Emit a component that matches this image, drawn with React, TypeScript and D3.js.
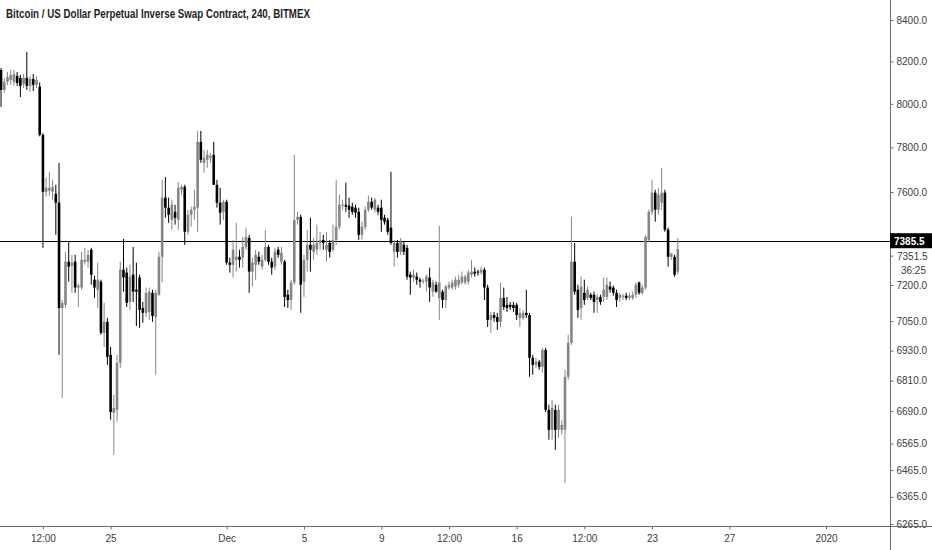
import { useEffect, useRef } from 'react'
import * as d3 from 'd3'

const BAR_MS = 4 * 3600 * 1000
const firstBar = Date.UTC(2019, 10, 19, 8)

// [open, high, low, close] per 4h bar, from Nov 19 08:00 UTC
const ohlc: [number, number, number, number][] = [
  [8159, 8169, 7986, 8065], [8065, 8122, 8051, 8103], [8103, 8150, 8089, 8126], [8112, 8159, 8089, 8136],
  [8103, 8159, 8084, 8140], [8131, 8150, 8084, 8098], [8122, 8136, 8032, 8084], [8093, 8140, 8074, 8122],
  [8122, 8245, 8065, 8084], [8084, 8131, 8056, 8117], [8117, 8140, 8060, 8089], [8089, 8131, 8074, 8112],
  [8080, 8100, 7850, 7857], [7857, 7865, 7357, 7601], [7601, 7663, 7579, 7619], [7606, 7690, 7584, 7619],
  [7601, 7654, 7566, 7623], [7592, 7632, 7413, 7553], [7553, 7730, 6913, 7104], [7104, 7137, 6742, 7125],
  [7117, 7340, 7104, 7298], [7298, 7383, 7214, 7277], [7281, 7327, 7167, 7294], [7298, 7327, 7167, 7189],
  [7189, 7205, 7108, 7197], [7189, 7340, 7180, 7306], [7298, 7357, 7285, 7306], [7298, 7349, 7273, 7327],
  [7349, 7357, 7201, 7243], [7222, 7239, 7146, 7189], [7180, 7294, 7104, 7222], [7214, 7222, 6994, 7002],
  [7002, 7125, 6945, 7047], [7047, 7063, 6873, 6905], [6913, 6945, 6657, 6687], [6684, 6754, 6522, 6703],
  [6695, 6913, 6649, 6881], [6881, 7298, 6861, 7264], [7264, 7396, 7172, 7231], [7252, 7273, 7108, 7125],
  [7129, 7285, 7096, 7235], [7243, 7361, 7129, 7172], [7180, 7294, 7030, 7172], [7231, 7243, 7022, 7096],
  [7104, 7129, 7043, 7084], [7084, 7189, 7067, 7167], [7088, 7189, 7055, 7172], [7167, 7180, 7047, 7071],
  [7067, 7180, 6833, 7167], [7159, 7340, 7155, 7319], [7319, 7654, 7210, 7575], [7575, 7667, 7487, 7531],
  [7531, 7575, 7465, 7500], [7478, 7566, 7435, 7544], [7513, 7544, 7457, 7487], [7478, 7645, 7435, 7619],
  [7610, 7632, 7588, 7623], [7623, 7632, 7370, 7426], [7426, 7522, 7413, 7500], [7500, 7535, 7448, 7522],
  [7522, 7610, 7478, 7535], [7531, 7875, 7426, 7825], [7825, 7875, 7730, 7744], [7730, 7789, 7686, 7753],
  [7744, 7789, 7708, 7767], [7753, 7776, 7730, 7762], [7767, 7825, 7632, 7632], [7632, 7654, 7531, 7553],
  [7553, 7619, 7457, 7509], [7513, 7566, 7478, 7557], [7557, 7566, 7285, 7294], [7294, 7315, 7252, 7285],
  [7285, 7391, 7231, 7349], [7306, 7465, 7256, 7319], [7319, 7349, 7273, 7306], [7315, 7404, 7273, 7361],
  [7361, 7444, 7349, 7404], [7400, 7413, 7167, 7256], [7256, 7315, 7193, 7294], [7285, 7349, 7222, 7327],
  [7319, 7340, 7285, 7298], [7277, 7327, 7264, 7306], [7306, 7435, 7298, 7361], [7361, 7370, 7285, 7298],
  [7298, 7315, 7243, 7273], [7277, 7357, 7264, 7340], [7349, 7361, 7315, 7327], [7298, 7361, 7285, 7336],
  [7298, 7306, 7108, 7150], [7159, 7180, 7104, 7137], [7137, 7222, 7096, 7210], [7210, 7767, 7201, 7478],
  [7478, 7513, 7457, 7491], [7491, 7500, 7084, 7201], [7214, 7327, 7150, 7306], [7306, 7435, 7256, 7370],
  [7370, 7487, 7256, 7349], [7340, 7400, 7306, 7370], [7349, 7457, 7327, 7378], [7378, 7426, 7349, 7391],
  [7391, 7413, 7349, 7378], [7349, 7426, 7298, 7370], [7378, 7391, 7315, 7340], [7349, 7457, 7340, 7391],
  [7391, 7654, 7370, 7448], [7448, 7588, 7435, 7544], [7540, 7566, 7522, 7544], [7544, 7641, 7513, 7535],
  [7540, 7575, 7487, 7522], [7535, 7553, 7500, 7513], [7531, 7544, 7487, 7509], [7513, 7531, 7391, 7413],
  [7413, 7470, 7391, 7448], [7448, 7535, 7435, 7522], [7522, 7584, 7513, 7557], [7557, 7575, 7522, 7531],
  [7522, 7575, 7509, 7566], [7531, 7544, 7500, 7513], [7531, 7566, 7426, 7478], [7487, 7500, 7457, 7470],
  [7478, 7487, 7413, 7426], [7444, 7690, 7370, 7378], [7340, 7391, 7277, 7378], [7378, 7391, 7315, 7340],
  [7340, 7400, 7327, 7383], [7370, 7383, 7327, 7340], [7357, 7370, 7222, 7235], [7243, 7256, 7159, 7231],
  [7231, 7264, 7214, 7243], [7235, 7252, 7201, 7222], [7222, 7231, 7189, 7214], [7214, 7226, 7205, 7218],
  [7214, 7243, 7172, 7235], [7231, 7273, 7129, 7189], [7172, 7222, 7150, 7210], [7201, 7214, 7167, 7172],
  [7146, 7452, 7055, 7210], [7172, 7180, 7104, 7137], [7137, 7201, 7104, 7193], [7189, 7214, 7180, 7201],
  [7189, 7222, 7180, 7210], [7193, 7235, 7180, 7222], [7201, 7243, 7189, 7222], [7210, 7256, 7201, 7235],
  [7210, 7243, 7201, 7235], [7214, 7264, 7201, 7252], [7243, 7306, 7231, 7256], [7256, 7273, 7235, 7247],
  [7256, 7264, 7239, 7252], [7252, 7277, 7243, 7264], [7264, 7273, 7137, 7189], [7189, 7201, 7026, 7055],
  [7055, 7088, 7002, 7075], [7075, 7088, 7047, 7063], [7067, 7084, 7014, 7047], [7047, 7210, 7026, 7146],
  [7146, 7189, 7096, 7108], [7117, 7150, 7088, 7104], [7117, 7129, 7096, 7108], [7117, 7129, 7088, 7104],
  [7117, 7125, 7055, 7075], [7063, 7104, 7026, 7084], [7063, 7096, 7055, 7084], [7084, 7180, 7063, 7075],
  [7075, 7084, 6825, 6901], [6901, 6913, 6833, 6873], [6873, 6901, 6861, 6885], [6885, 6893, 6853, 6865],
  [6865, 6941, 6841, 6933], [6933, 6941, 6687, 6695], [6695, 6715, 6580, 6618], [6618, 6734, 6580, 6703],
  [6695, 6715, 6541, 6618], [6618, 6715, 6587, 6695], [6618, 6657, 6599, 6637], [6618, 6853, 6417, 6825],
  [6825, 6994, 6813, 6961], [6961, 7491, 6953, 7298], [7298, 7378, 7159, 7172], [7180, 7201, 7063, 7096],
  [7104, 7235, 7055, 7193], [7167, 7222, 7117, 7137], [7146, 7193, 7137, 7180], [7159, 7167, 7137, 7146],
  [7159, 7172, 7084, 7129], [7137, 7163, 7084, 7150], [7150, 7159, 7117, 7129], [7150, 7231, 7129, 7180],
  [7150, 7231, 7137, 7201], [7193, 7214, 7167, 7180], [7189, 7197, 7155, 7167], [7167, 7180, 7108, 7137],
  [7146, 7167, 7129, 7159], [7150, 7163, 7137, 7155], [7155, 7167, 7137, 7146], [7146, 7167, 7137, 7155],
  [7146, 7172, 7137, 7159], [7159, 7210, 7146, 7201], [7210, 7214, 7159, 7167], [7167, 7201, 7159, 7189],
  [7189, 7413, 7180, 7404], [7391, 7522, 7383, 7513], [7513, 7654, 7500, 7597], [7597, 7610, 7470, 7522],
  [7522, 7619, 7500, 7588], [7553, 7708, 7522, 7597], [7597, 7610, 7426, 7435], [7435, 7444, 7277, 7319],
  [7319, 7336, 7306, 7332], [7319, 7327, 7235, 7243], [7256, 7400, 7243, 7351.5],
]

const priceTicks = [8400, 8200, 8000, 7800, 7600, 7200, 7050, 6930, 6810, 6690, 6565, 6465, 6365, 6265]

const dateTicks = [
  { date: Date.UTC(2019, 10, 21, 12), label: '12:00' },
  { date: Date.UTC(2019, 10, 25), label: '25' },
  { date: Date.UTC(2019, 11, 1), label: 'Dec' },
  { date: Date.UTC(2019, 11, 5), label: '5' },
  { date: Date.UTC(2019, 11, 9), label: '9' },
  { date: Date.UTC(2019, 11, 12, 12), label: '12:00' },
  { date: Date.UTC(2019, 11, 16), label: '16' },
  { date: Date.UTC(2019, 11, 19, 12), label: '12:00' },
  { date: Date.UTC(2019, 11, 23), label: '23' },
  { date: Date.UTC(2019, 11, 27), label: '27' },
  { date: Date.UTC(2020, 0, 1), label: '2020' },
]

const title = 'Bitcoin / US Dollar Perpetual Inverse Swap Contract, 240, BITMEX'
const levelPrice = 7385.5
const lastPrice = 7351.5
const countdown = '36:25'

export default function App() {
  const svgRef = useRef<SVGSVGElement>(null)

  useEffect(() => {
    if (!svgRef.current) return
    const svg = d3.select(svgRef.current)
    svg.selectAll('*').remove()

    const width = 932
    const height = 550
    const plotRight = 890
    const plotBottom = 526
    const font = '"Liberation Sans", Arial, sans-serif'
    const upColor = '#858585'
    const downColor = '#000000'
    const axisColor = '#6b6b6b'
    const labelColor = '#3c3c3c'

    svg.attr('width', width).attr('height', height).attr('viewBox', `0 0 ${width} ${height}`)
    svg.append('rect').attr('width', width).attr('height', height).attr('fill', '#ffffff')

    const x = d3.scaleUtc()
      .domain([new Date(Date.UTC(2019, 10, 25)), new Date(Date.UTC(2019, 11, 23))])
      .range([110.6, 652])

    const y = d3.scaleLog()
      .domain([6265, 8400])
      .range([524, 20])

    svg.append('clipPath').attr('id', 'plot-clip')
      .append('rect').attr('x', 0).attr('y', 0).attr('width', plotRight).attr('height', plotBottom)

    const plot = svg.append('g').attr('clip-path', 'url(#plot-clip)')

    // horizontal level line
    plot.append('line')
      .attr('x1', 0).attr('x2', plotRight)
      .attr('y1', Math.round(y(levelPrice)) + 0.5).attr('y2', Math.round(y(levelPrice)) + 0.5)
      .attr('stroke', '#000').attr('stroke-width', 1)

    const bars = ohlc.map((d, i) => ({
      t: new Date(firstBar + i * BAR_MS),
      o: d[0], h: d[1], l: d[2], c: d[3],
    }))

    const candle = plot.append('g').selectAll('g')
      .data(bars)
      .join('g')
      .attr('fill', d => (d.c >= d.o ? upColor : downColor))
      .attr('stroke', d => (d.c >= d.o ? upColor : downColor))

    candle.append('line')
      .attr('x1', d => x(d.t)).attr('x2', d => x(d.t))
      .attr('y1', d => y(d.h)).attr('y2', d => y(d.l))
      .attr('stroke-width', 1)

    candle.append('rect')
      .attr('x', d => x(d.t) - 1.3)
      .attr('width', 2.6)
      .attr('y', d => y(Math.max(d.o, d.c)))
      .attr('height', d => Math.max(1, Math.abs(y(d.o) - y(d.c))))
      .attr('stroke', 'none')

    // price axis
    const yAxis = svg.append('g')
      .attr('transform', `translate(${plotRight + 0.5},0)`)
      .call(d3.axisRight(y).tickValues(priceTicks).tickFormat(d => (+d).toFixed(1)).tickSize(3).tickPadding(3))
    yAxis.select('.domain').remove()
    yAxis.selectAll('line').attr('stroke', axisColor)
    yAxis.selectAll('text').attr('fill', labelColor).attr('font-size', 10).attr('font-family', font)

    // time axis
    const xAxis = svg.append('g')
      .attr('transform', `translate(0,${plotBottom + 0.5})`)
      .call(d3.axisBottom(x)
        .tickValues(dateTicks.map(d => new Date(d.date)))
        .tickFormat((_, i) => dateTicks[i].label)
        .tickSize(3).tickPadding(5))
    xAxis.select('.domain').remove()
    xAxis.selectAll('line').attr('stroke', axisColor)
    xAxis.selectAll('text').attr('fill', labelColor).attr('font-size', 10).attr('font-family', font)

    svg.append('line')
      .attr('x1', plotRight + 0.5).attr('x2', plotRight + 0.5)
      .attr('y1', 0).attr('y2', height)
      .attr('stroke', axisColor)
    svg.append('line')
      .attr('x1', 0).attr('x2', width)
      .attr('y1', plotBottom + 0.5).attr('y2', plotBottom + 0.5)
      .attr('stroke', axisColor)

    // level label
    const ly = y(levelPrice)
    svg.append('rect')
      .attr('x', plotRight).attr('y', ly - 8).attr('width', width - plotRight).attr('height', 15)
      .attr('fill', '#000')
    svg.append('text')
      .attr('x', plotRight + 4).attr('y', ly + 3.5)
      .attr('fill', '#fff').attr('font-size', 10).attr('font-weight', 'bold').attr('font-family', font)
      .text(levelPrice.toFixed(1))

    // last price + countdown
    const py = y(lastPrice) + 7
    svg.append('line')
      .attr('x1', plotRight + 0.5).attr('x2', plotRight + 3.5)
      .attr('y1', py).attr('y2', py)
      .attr('stroke', axisColor)
    svg.append('text')
      .attr('x', plotRight + 7).attr('y', py + 3.5)
      .attr('fill', labelColor).attr('font-size', 10).attr('font-family', font)
      .text(lastPrice.toFixed(1))
    svg.append('text')
      .attr('x', plotRight + 36).attr('y', py + 18)
      .attr('text-anchor', 'end')
      .attr('fill', labelColor).attr('font-size', 10).attr('font-family', font)
      .text(countdown)

    // title
    svg.append('text')
      .attr('x', 6).attr('y', 18)
      .attr('fill', '#1e1e1e').attr('font-size', 12).attr('font-weight', 'bold').attr('font-family', font)
      .attr('textLength', 304).attr('lengthAdjust', 'spacingAndGlyphs')
      .text(title)
  }, [])

  return (
    <div style={{ position: 'absolute', left: 0, top: 0 }}>
      <svg ref={svgRef} style={{ display: 'block' }} />
    </div>
  )
}
